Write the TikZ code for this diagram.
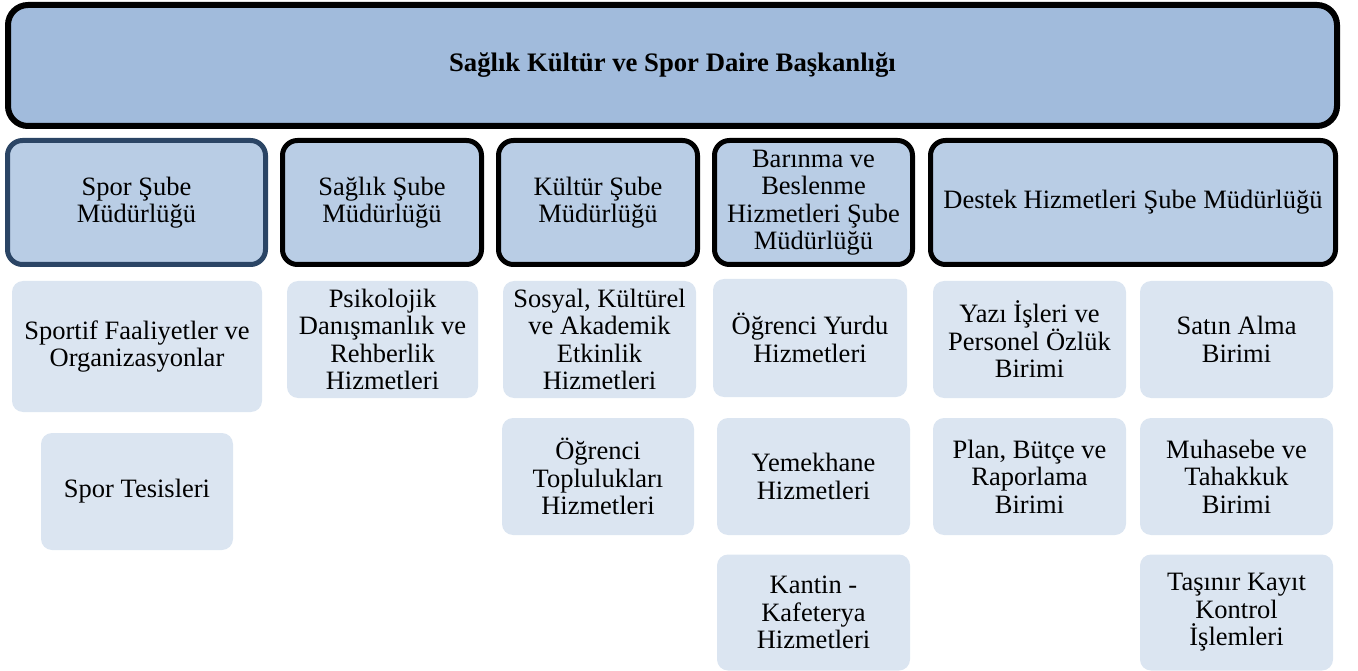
\documentclass[tikz,border=0pt]{standalone}
\usepackage{fontspec}
\setmainfont{Liberation Serif}
\definecolor{topfill}{HTML}{A1BBDC}
\definecolor{midfill}{HTML}{B9CDE5}
\definecolor{lightfill}{HTML}{DBE5F1}
\definecolor{sporborder}{HTML}{2B4565}
\tikzset{
  topbox/.style={draw=black, line width=6pt, fill=topfill, rounded corners=20pt, inner sep=0pt, align=center,
    font=\fontsize{26.7}{29}\selectfont\bfseries},
  midbox/.style={draw=black, line width=5pt, fill=midfill, rounded corners=15pt, inner sep=0pt, align=center,
    font=\fontsize{26.5}{27.5}\selectfont, minimum height=124pt},
  lightbox/.style={fill=lightfill, rounded corners=11pt, inner sep=0pt, align=center,
    font=\fontsize{26.5}{27.5}\selectfont}
}
\begin{document}
\begin{tikzpicture}[x=1pt,y=-1pt]
\useasboundingbox (0,0) rectangle (1358,671);
\node[topbox, minimum width=1329pt, minimum height=121pt] (top) at (672.5,65.5) {Sağlık Kültür ve Spor Daire Başkanlığı};

\node[midbox, draw=sporborder, minimum width=258pt] (spor) at (136.5,202.5) {Spor Şube\\Müdürlüğü};
\node[midbox, minimum width=199pt] (saglik) at (382,202.5) {Sağlık Şube\\Müdürlüğü};
\node[midbox, minimum width=199pt] (kultur) at (598,202.5) {Kültür Şube\\Müdürlüğü};
\node[midbox, minimum width=198pt] (barinma) at (813.5,202.5) {Barınma ve\\Beslenme\\Hizmetleri Şube\\Müdürlüğü};
\node[midbox, minimum width=405pt] (destek) at (1133,202.5) {Destek Hizmetleri Şube Müdürlüğü};

\node[lightbox, minimum width=250pt, minimum height=131pt] (sportif) at (137,346.5) {Sportif Faaliyetler ve\\Organizasyonlar};
\node[lightbox, minimum width=192pt, minimum height=117pt] (tesis) at (137,491.5) {Spor Tesisleri};
\node[lightbox, minimum width=191pt, minimum height=117pt] (psiko) at (382.5,339.5) {Psikolojik\\Danışmanlık ve\\Rehberlik\\Hizmetleri};
\node[lightbox, minimum width=193pt, minimum height=117pt] (sosyal) at (599.5,339.5) {Sosyal, Kültürel\\ve Akademik\\Etkinlik\\Hizmetleri};
\node[lightbox, minimum width=192pt, minimum height=117pt] (topluluk) at (598,476.5) {Öğrenci\\Toplulukları\\Hizmetleri};
\node[lightbox, minimum width=194pt, minimum height=118pt] (yurt) at (810,338) {Öğrenci Yurdu\\Hizmetleri};
\node[lightbox, minimum width=193pt, minimum height=117pt] (yemek) at (813.5,476.5) {Yemekhane\\Hizmetleri};
\node[lightbox, minimum width=193pt, minimum height=116pt] (kantin) at (813.5,612.5) {Kantin -\\Kafeterya\\Hizmetleri};
\node[lightbox, minimum width=193pt, minimum height=117pt] (yazi) at (1029.5,339.5) {Yazı İşleri ve\\Personel Özlük\\Birimi};
\node[lightbox, minimum width=193pt, minimum height=117pt] (satin) at (1236.5,339.5) {Satın Alma\\Birimi};
\node[lightbox, minimum width=193pt, minimum height=117pt] (plan) at (1029.5,476.5) {Plan, Bütçe ve\\Raporlama\\Birimi};
\node[lightbox, minimum width=193pt, minimum height=117pt] (muhasebe) at (1236.5,476.5) {Muhasebe ve\\Tahakkuk\\Birimi};
\node[lightbox, minimum width=193pt, minimum height=116pt] (tasinir) at (1236.5,612.5) {Taşınır Kayıt\\Kontrol\\İşlemleri};
\end{tikzpicture}
\end{document}
